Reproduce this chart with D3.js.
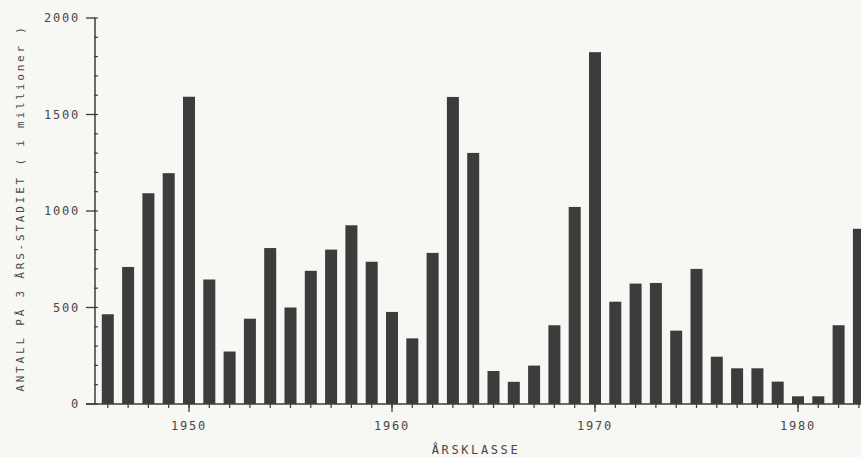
<!DOCTYPE html>
<html>
<head>
<meta charset="utf-8">
<script src="https://d3js.org/d3.v7.min.js"></script>
<style>
    body { margin: 0; background: #f7f7f4; }
    svg { display: block; }
    text { font-family: "DejaVu Sans Mono", monospace; fill: #474747; }
</style>
</head>
<body>
<svg id="chart"></svg>
<script>
// årsklasser og antall (millioner) på 3-års-stadiet
var years = [1946, 1947, 1948, 1949, 1950, 1951, 1952, 1953, 1954, 1955,
             1956, 1957, 1958, 1959, 1960, 1961, 1962, 1963, 1964, 1965,
             1966, 1967, 1968, 1969, 1970, 1971, 1972, 1973, 1974, 1975,
             1976, 1977, 1978, 1979, 1980, 1981, 1982, 1983];
var antall = [465, 710, 1092, 1196, 1592, 645, 272, 442, 808, 500,
              690, 800, 926, 737, 477, 340, 783, 1591, 1301, 171,
              115, 199, 408, 1021, 1823, 530, 624, 627, 380, 700,
              245, 185, 185, 116, 40, 40, 408, 908];
var yTicks = [0, 500, 1000, 1500, 2000];
var xTicks = [1950, 1960, 1970, 1980];
var yLabel = 'ANTALL PÅ 3 ÅRS-STADIET ( i millioner )';
var xLabel = 'ÅRSKLASSE';

window.Chart = window.Chart || {};

Chart.setup = {
    initConst: function() {
        Chart.width = 861;
        Chart.height = 457;
        Chart.x = d3.scaleLinear().domain([1950, 1980]).range([189, 798]);
        Chart.y = d3.scaleLinear().domain([0, 2000]).range([404, 18]);
        Chart.barWidth = 12;
        Chart.axisX = 95;
        Chart.ink = '#3c3c3c';
    },

    initObjects: function() {
        Chart.svg = d3.select('#chart')
                      .attr('width', Chart.width)
                      .attr('height', Chart.height);
    }
};

Chart.core = {
    draw: function() {
        Chart.core.drawBars();
        Chart.core.drawYAxis();
        Chart.core.drawXAxis();
        Chart.core.drawLabels();
    },

    drawBars: function() {
        Chart.svg.append('g').selectAll('rect')
            .data(years)
            .join('rect')
            .attr('x', function(d) { return Chart.x(d) - Chart.barWidth/2; })
            .attr('y', function(d, i) { return Chart.y(antall[i]); })
            .attr('width', Chart.barWidth)
            .attr('height', function(d, i) { return Chart.y(0) - Chart.y(antall[i]); })
            .attr('fill', Chart.ink);
    },

    drawYAxis: function() {
        var g = Chart.svg.append('g')
                         .attr('transform', 'translate(' + Chart.axisX + ',0)');
        g.append('line')
            .attr('y1', Chart.y(2000)).attr('y2', Chart.y(0))
            .attr('stroke', Chart.ink).attr('stroke-width', 1.5);

        var minor = d3.range(0, 2001, 100);
        g.selectAll('line.minor')
            .data(minor)
            .join('line')
            .attr('class', 'minor')
            .attr('x1', -1).attr('x2', 3)
            .attr('y1', Chart.y).attr('y2', Chart.y)
            .attr('stroke', Chart.ink).attr('stroke-width', 1.2);

        g.selectAll('line.major')
            .data(yTicks)
            .join('line')
            .attr('class', 'major')
            .attr('x1', -9).attr('x2', 0)
            .attr('y1', Chart.y).attr('y2', Chart.y)
            .attr('stroke', Chart.ink).attr('stroke-width', 1.3);

        g.selectAll('text')
            .data(yTicks)
            .join('text')
            .attr('x', -15)
            .attr('y', Chart.y)
            .attr('dy', '0.35em')
            .attr('text-anchor', 'end')
            .attr('font-size', 12)
            .attr('letter-spacing', 1.8)
            .text(function(d) { return d; });
    },

    drawXAxis: function() {
        var g = Chart.svg.append('g')
                         .attr('transform', 'translate(0,' + Chart.y(0) + ')');
        g.append('line')
            .attr('x1', 86).attr('x2', Chart.width)
            .attr('stroke', Chart.ink).attr('stroke-width', 1.5);

        g.selectAll('line.minor')
            .data(years)
            .join('line')
            .attr('class', 'minor')
            .attr('x1', Chart.x).attr('x2', Chart.x)
            .attr('y1', 0).attr('y2', 4)
            .attr('stroke', Chart.ink).attr('stroke-width', 1.2);

        g.selectAll('line.major')
            .data(xTicks)
            .join('line')
            .attr('class', 'major')
            .attr('x1', Chart.x).attr('x2', Chart.x)
            .attr('y1', 0).attr('y2', 8)
            .attr('stroke', Chart.ink).attr('stroke-width', 1.3);

        g.selectAll('text')
            .data(xTicks)
            .join('text')
            .attr('x', Chart.x)
            .attr('y', 22)
            .attr('dy', '0.35em')
            .attr('text-anchor', 'middle')
            .attr('font-size', 12)
            .attr('letter-spacing', 1.8)
            .text(function(d) { return d; });
    },

    drawLabels: function() {
        Chart.svg.append('text')
            .attr('x', 476).attr('y', 450)
            .attr('dy', '0.35em')
            .attr('text-anchor', 'middle')
            .attr('font-size', 12)
            .attr('letter-spacing', 2.6)
            .text(xLabel);

        Chart.svg.append('text')
            .attr('transform', 'translate(20,208) rotate(-90)')
            .attr('dy', '0.35em')
            .attr('text-anchor', 'middle')
            .attr('font-size', 11)
            .attr('letter-spacing', 2.8)
            .text(yLabel);
    }
};

Chart.init = function() {
    Chart.setup.initConst();
    Chart.setup.initObjects();
    Chart.core.draw();
};

Chart.init();
</script>
</body>
</html>
